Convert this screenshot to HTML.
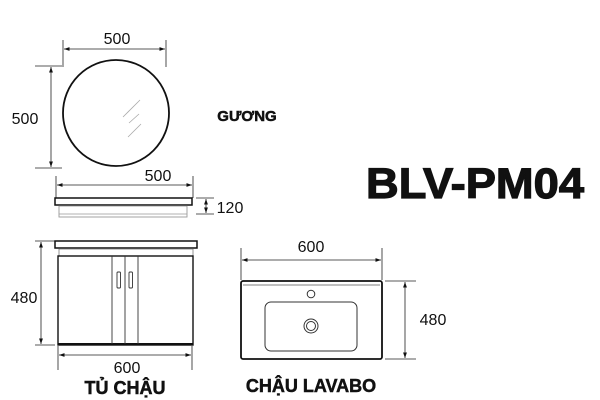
<!DOCTYPE html>
<html><head><meta charset="utf-8"><style>html,body{margin:0;padding:0;background:#fff}svg{display:block}</style></head>
<body>
<svg width="600" height="400" viewBox="0 0 600 400" xmlns="http://www.w3.org/2000/svg" font-family="Liberation Sans, DejaVu Sans, sans-serif">
<defs>
<marker id="a" viewBox="0 0 10 10" refX="10" refY="5" markerWidth="7" markerHeight="7" orient="auto-start-reverse"><path d="M0,1.5 L10,5 L0,8.5z" fill="#111"/></marker>
</defs>
<g stroke="#222" stroke-width="0.8" fill="none">
<line x1="63" y1="40" x2="63" y2="67"/><line x1="166" y1="40" x2="166" y2="67"/>
<line x1="64" y1="49" x2="165" y2="49" marker-start="url(#a)" marker-end="url(#a)"/>
<line x1="35" y1="66" x2="62" y2="66"/><line x1="35" y1="168" x2="62" y2="168"/>
<line x1="51" y1="67" x2="51" y2="167" marker-start="url(#a)" marker-end="url(#a)"/>
<line x1="56" y1="176" x2="56" y2="198"/><line x1="193" y1="176" x2="193" y2="198"/>
<line x1="57" y1="185" x2="192" y2="185" marker-start="url(#a)" marker-end="url(#a)"/>
<line x1="196" y1="198" x2="214" y2="198"/><line x1="196" y1="214" x2="214" y2="214"/>
<line x1="206" y1="199" x2="206" y2="213" marker-start="url(#a)" marker-end="url(#a)"/>
<line x1="35" y1="241" x2="55" y2="241"/><line x1="35" y1="345" x2="55" y2="345"/>
<line x1="41" y1="242" x2="41" y2="344" marker-start="url(#a)" marker-end="url(#a)"/>
<line x1="58" y1="346" x2="58" y2="370"/><line x1="192" y1="346" x2="192" y2="370"/>
<line x1="59" y1="355" x2="191" y2="355" marker-start="url(#a)" marker-end="url(#a)"/>
<line x1="241" y1="248" x2="241" y2="280"/><line x1="382" y1="248" x2="382" y2="280"/>
<line x1="242" y1="260" x2="381" y2="260" marker-start="url(#a)" marker-end="url(#a)"/>
<line x1="385" y1="281" x2="416" y2="281"/><line x1="385" y1="359" x2="416" y2="359"/>
<line x1="405" y1="282" x2="405" y2="358" marker-start="url(#a)" marker-end="url(#a)"/>
</g>
<circle cx="116" cy="113" r="53" fill="none" stroke="#111" stroke-width="1.8"/>
<g stroke="#aaa" stroke-width="0.8"><line x1="123" y1="117" x2="140" y2="100"/><line x1="129" y1="123" x2="139" y2="114"/><line x1="128" y1="137" x2="141" y2="124"/></g>
<rect x="55" y="198" width="137" height="7" fill="#fff" stroke="#111" stroke-width="1.5"/>
<rect x="59" y="206" width="128" height="11" fill="none" stroke="#999" stroke-width="0.9"/>
<line x1="59" y1="214" x2="187" y2="214" stroke="#999" stroke-width="0.8"/>
<rect x="55" y="241" width="142" height="7" fill="#fff" stroke="#111" stroke-width="1.5"/>
<rect x="59" y="249" width="134" height="7" fill="none" stroke="#888" stroke-width="0.9"/>
<rect x="58" y="256" width="135" height="89" fill="none" stroke="#111" stroke-width="1.4"/>
<line x1="58" y1="344" x2="193" y2="344" stroke="#111" stroke-width="2"/>
<g stroke="#333" stroke-width="0.9" fill="none">
<line x1="112" y1="256" x2="112" y2="344"/><line x1="125" y1="256" x2="125" y2="344"/><line x1="138" y1="256" x2="138" y2="344"/>
<rect x="117" y="272" width="3.5" height="16" rx="1"/><rect x="129" y="272" width="3.5" height="16" rx="1"/>
</g>
<rect x="241" y="281" width="141" height="78" rx="2" fill="none" stroke="#111" stroke-width="1.8"/>
<line x1="243" y1="285" x2="380" y2="285" stroke="#555" stroke-width="0.8"/>
<rect x="265" y="302" width="92" height="49" rx="6" fill="none" stroke="#333" stroke-width="1"/>
<circle cx="311" cy="294" r="3.8" fill="none" stroke="#333" stroke-width="1"/>
<circle cx="311" cy="326" r="7" fill="none" stroke="#333" stroke-width="1"/>
<circle cx="311" cy="326" r="4.5" fill="none" stroke="#333" stroke-width="1"/>
<g fill="#111" font-size="16" text-anchor="middle">
<text x="117" y="44">500</text>
<text x="25" y="124">500</text>
<text x="158" y="181">500</text>
<text x="230" y="213">120</text>
<text x="24" y="303">480</text>
<text x="127" y="373">600</text>
<text x="311" y="252">600</text>
<text x="433" y="325">480</text>
</g>
<g fill="#111" font-weight="bold" text-anchor="middle" stroke="#111" stroke-width="0.5">
<text x="247" y="121" font-size="15">GƯƠNG</text>
<text x="125" y="394" font-size="18">TỦ CHẬU</text>
<text x="311" y="392" font-size="18">CHẬU LAVABO</text>
<text x="475" y="198" font-size="43" textLength="218" lengthAdjust="spacingAndGlyphs" stroke-width="1.2">BLV-PM04</text>
</g>
</svg>
</body></html>
